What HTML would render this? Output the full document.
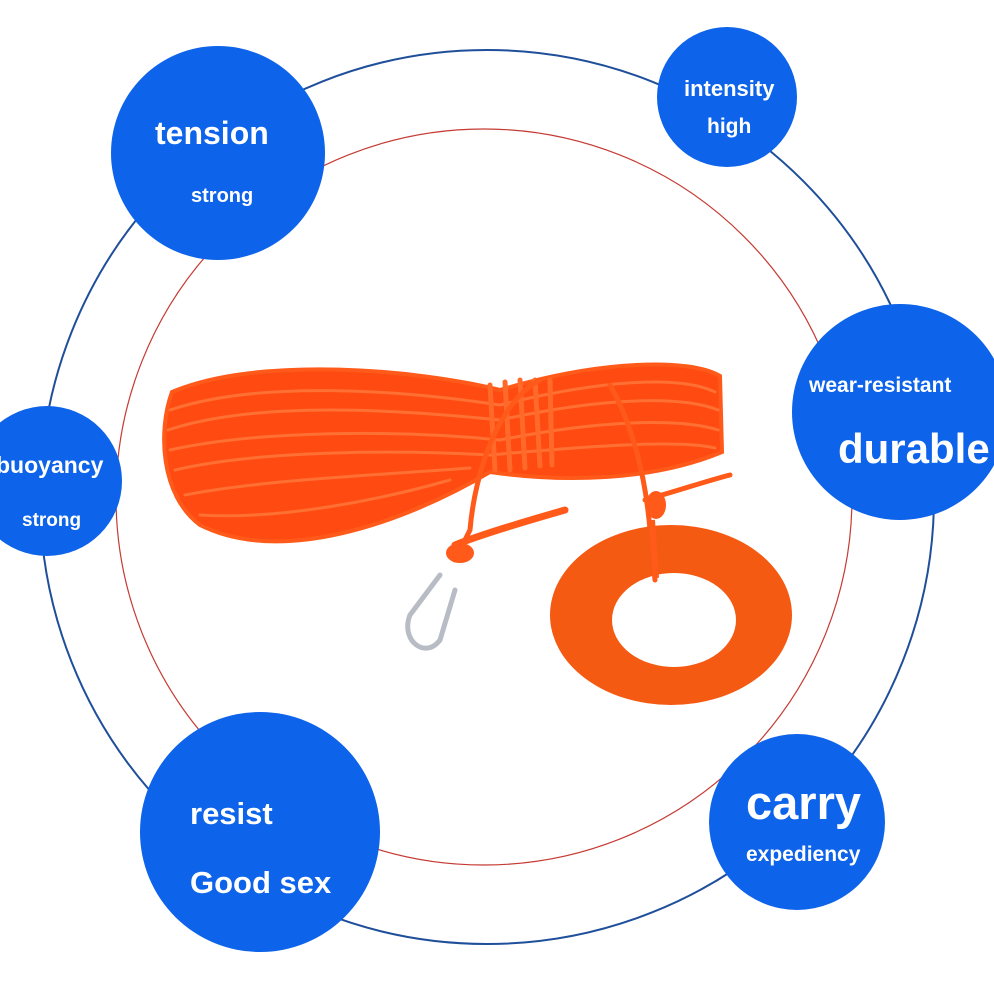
<!DOCTYPE html>
<html><head><style>
html,body{margin:0;padding:0;background:#fff;}
body{width:994px;height:994px;overflow:hidden;position:relative;font-family:"Liberation Sans",sans-serif;}
.c{position:absolute;border-radius:50%;background:#0d63ea;color:#fff;font-weight:bold;}
.t{position:absolute;white-space:nowrap;color:#fff;font-weight:bold;}
</style></head><body>
<svg width="994" height="994" style="position:absolute;left:0;top:0">
<circle cx="487" cy="497" r="447" fill="none" stroke="#1f4f9a" stroke-width="2"/>
<circle cx="484" cy="497" r="368" fill="none" stroke="#c53a33" stroke-width="1.2"/>
<g fill="none" stroke-linecap="round">
<path d="M172 392 C260 355 420 370 500 390 C600 360 690 358 720 376 L722 452 C650 482 560 482 490 472 C400 525 280 565 200 525 C160 495 158 430 172 392Z" fill="#ff4a12" stroke="#ff5a1a" stroke-width="4"/>
<g stroke="#ff7a3a" stroke-width="3" opacity="0.8">
<path d="M170 410 C260 380 400 390 500 405 C600 380 680 375 715 392"/>
<path d="M168 430 C260 400 400 410 500 420 C600 398 680 395 718 410"/>
<path d="M170 450 C260 430 400 430 500 440 C600 420 680 418 718 430"/>
<path d="M175 470 C260 450 400 450 490 455 C600 445 680 440 715 448"/>
<path d="M185 495 C260 480 380 475 470 468"/>
<path d="M200 515 C280 520 380 500 450 480"/>
</g>
<g stroke="#ff6a2a" stroke-width="5">
<path d="M490 385 L495 470 M505 382 L510 470 M520 380 L525 468 M535 380 L540 466 M550 380 L552 465"/>
</g>
<path d="M540 380 C500 400 475 470 470 530 L455 560" stroke="#ff5a1a" stroke-width="5"/>
<path d="M455 545 C480 535 530 520 565 510" stroke="#ff5a1a" stroke-width="7"/>
<path d="M610 385 C630 420 645 470 650 530 L655 580" stroke="#ff5a1a" stroke-width="5"/>
<path d="M645 500 C680 490 710 480 730 475" stroke="#ff5a1a" stroke-width="5"/>
<ellipse cx="460" cy="553" rx="14" ry="10" fill="#ff5a1a"/>
<ellipse cx="656" cy="505" rx="10" ry="14" fill="#ff5a1a"/>
<path d="M440 575 L410 615 C400 640 425 660 440 640 L455 590" stroke="#b8bcc4" stroke-width="5"/>
</g>
<path fill-rule="evenodd" fill="#f45a12" d="M550 615 a121 90 0 1 0 242 0 a121 90 0 1 0 -242 0Z M612 620 a62 47 0 1 0 124 0 a62 47 0 1 0 -124 0Z"/>
<path d="M652 520 L656 578" stroke="#ff5a1a" stroke-width="6"/>
</svg>

<div class="c" style="left:111px;top:46px;width:214px;height:214px"></div>
<div class="t" style="left:155px;top:115px;font-size:32px">tension</div>
<div class="t" style="left:191px;top:185px;font-size:20px">strong</div>

<div class="c" style="left:657px;top:27px;width:140px;height:140px"></div>
<div class="t" style="left:684px;top:76px;font-size:22px">intensity</div>
<div class="t" style="left:707px;top:115px;font-size:21px">high</div>

<div class="c" style="left:792px;top:304px;width:216px;height:216px"></div>
<div class="t" style="left:809px;top:374px;font-size:21px">wear-resistant</div>
<div class="t" style="left:838px;top:425px;font-size:42px">durable</div>

<div class="c" style="left:-28px;top:406px;width:150px;height:150px"></div>
<div class="t" style="left:-4px;top:452px;font-size:23px">buoyancy</div>
<div class="t" style="left:22px;top:510px;font-size:19px">strong</div>

<div class="c" style="left:140px;top:712px;width:240px;height:240px"></div>
<div class="t" style="left:190px;top:796px;font-size:31px">resist</div>
<div class="t" style="left:190px;top:865px;font-size:31px">Good sex</div>

<div class="c" style="left:709px;top:734px;width:176px;height:176px"></div>
<div class="t" style="left:746px;top:775px;font-size:47px">carry</div>
<div class="t" style="left:746px;top:843px;font-size:21px">expediency</div>
</body></html>
